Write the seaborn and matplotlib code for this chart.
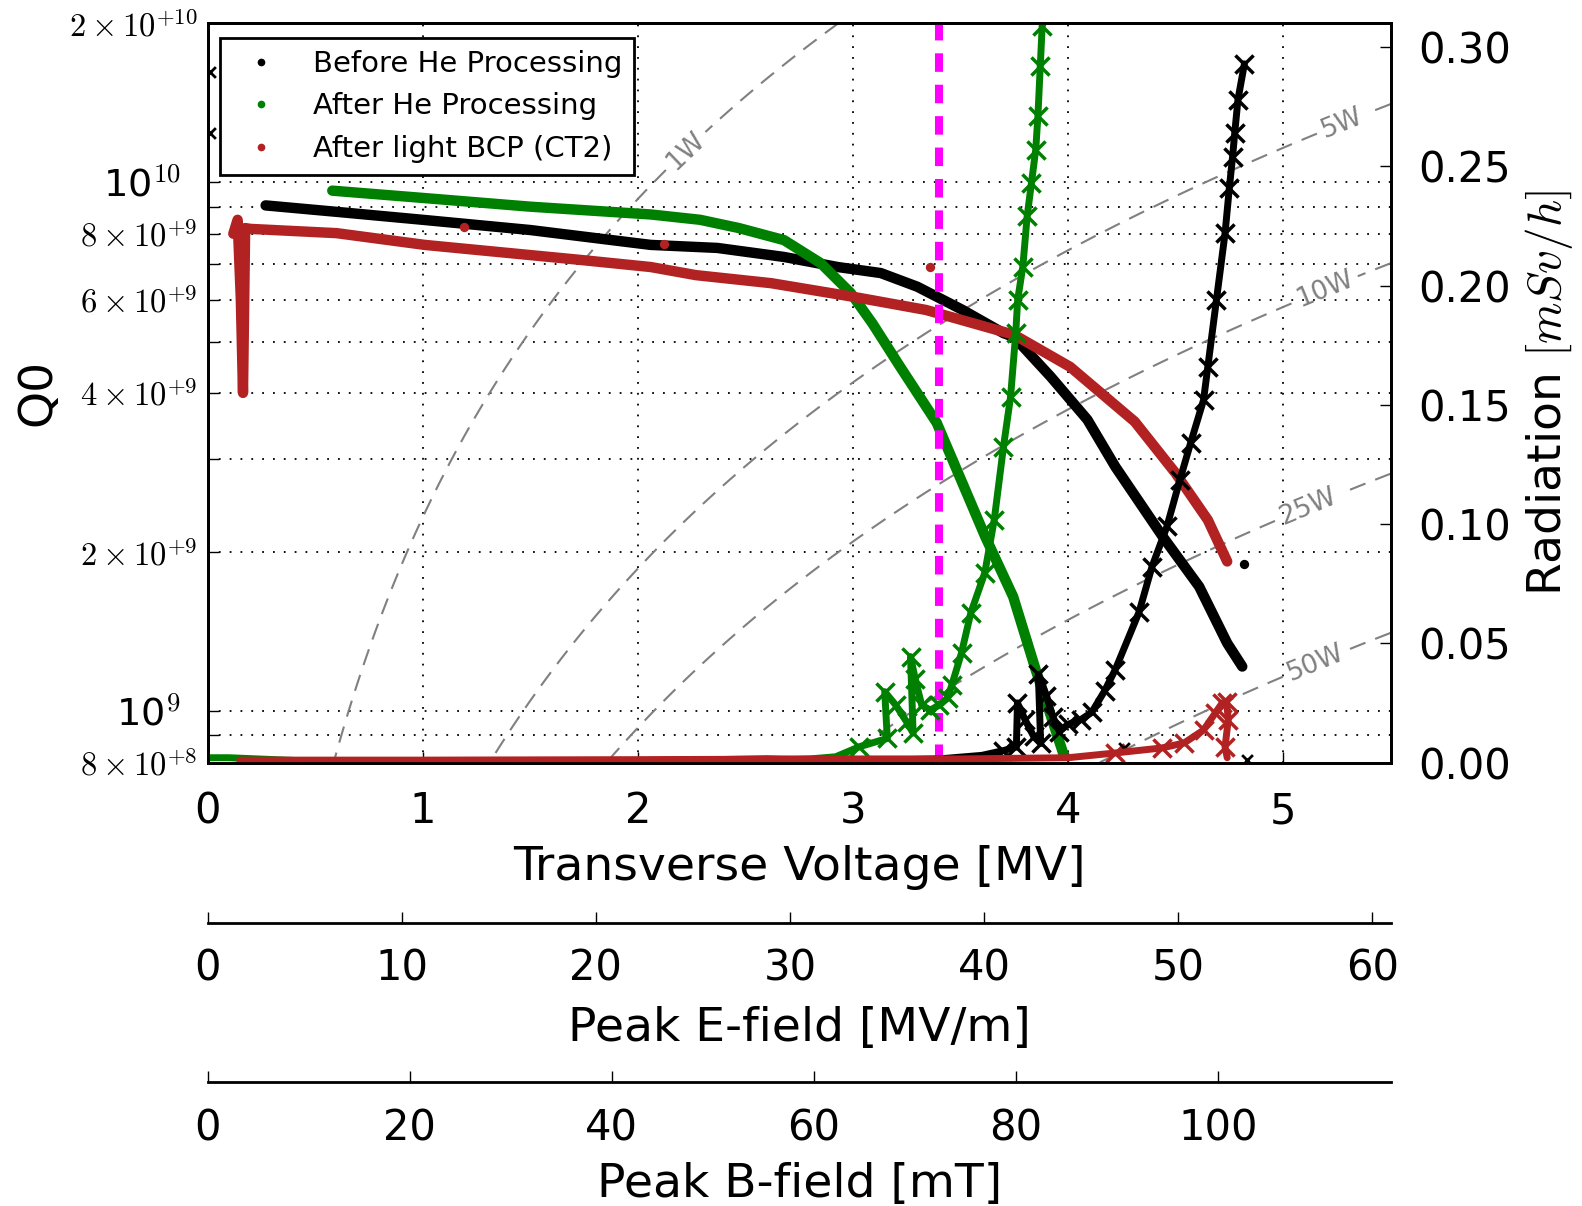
import numpy as np
import matplotlib
matplotlib.use('Agg')
import matplotlib.pyplot as plt
from matplotlib.ticker import FixedLocator, FuncFormatter
from matplotlib.lines import Line2D
import seaborn as sns

# ---------------- data ----------------
# Q0 vs transverse voltage [MV]
black_q_v = [0.27, 0.60, 1.00, 1.50, 2.06, 2.37, 2.68, 2.93, 3.13, 3.30, 3.51, 3.70, 3.75,
             3.92, 4.09, 4.22, 4.44, 4.61, 4.74, 4.81]
black_q = [9.05e9, 8.8e9, 8.5e9, 8.13e9, 7.62e9, 7.52e9, 7.23e9, 6.92e9, 6.74e9, 6.35e9,
           5.74e9, 5.19e9, 5.1e9, 4.29e9, 3.56e9, 2.90e9, 2.14e9, 1.72e9, 1.345e9, 1.215e9]

green_q_v = [0.58, 1.00, 1.50, 2.06, 2.29, 2.47, 2.68, 2.85, 2.99, 3.09, 3.22, 3.39, 3.615,
             3.745, 3.85, 3.98]
green_q = [9.65e9, 9.35e9, 9.0e9, 8.70e9, 8.50e9, 8.20e9, 7.78e9, 7.04e9, 6.18e9, 5.42e9,
           4.48e9, 3.51e9, 2.14e9, 1.647e9, 1.197e9, 8.27e8]

red_q_v = [0.12, 0.14, 0.155, 0.165, 0.175, 0.20, 0.60, 1.01, 1.73, 2.06, 2.27, 2.62, 3.01,
           3.34, 3.75, 4.01, 4.31, 4.50, 4.65, 4.74]
red_q = [8.0e9, 8.5e9, 6.0e9, 4.0e9, 8.2e9, 8.17e9, 8.02e9, 7.62e9, 7.14e9, 6.92e9, 6.68e9,
         6.45e9, 6.07e9, 5.74e9, 5.15e9, 4.48e9, 3.53e9, 2.82e9, 2.30e9, 1.92e9]

# isolated Q0 points
red_out_v = [1.19, 2.12, 3.36]
red_out_q = [8.24e9, 7.65e9, 6.92e9]
black_out_v = [4.82]
black_out_q = [1.90e9]

# Radiation [mSv/h] vs transverse voltage [MV]
black_r_v = [0.30, 1.00, 2.00, 2.60, 3.00, 3.40, 3.60, 3.70, 3.76, 3.765, 3.80, 3.84, 3.873,
             3.862, 3.90, 3.93, 3.96, 4.00, 4.06, 4.11, 4.17, 4.22, 4.33, 4.39, 4.46, 4.52,
             4.57, 4.63, 4.65, 4.69, 4.73, 4.75, 4.765, 4.775, 4.79, 4.82]
black_r = [0.0005, 0.0005, 0.0008, 0.0015, 0.0008, 0.0015, 0.003, 0.005, 0.0065, 0.025,
           0.018, 0.011, 0.008, 0.037, 0.028, 0.019, 0.013, 0.016, 0.018, 0.021, 0.030,
           0.039, 0.063, 0.082, 0.099, 0.1185, 0.134, 0.152, 0.166, 0.194, 0.222, 0.241,
           0.254, 0.264, 0.278, 0.293]
black_r_out_v = [0.01, 0.01, 4.26, 4.83]
black_r_out = [0.2896, 0.264, 0.006, 0.001]

green_r_v = [0.0, 0.10, 0.50, 1.00, 2.00, 2.50, 2.80, 2.92, 3.03, 3.16, 3.148, 3.20, 3.25,
             3.28, 3.268, 3.29, 3.32, 3.36, 3.40, 3.44, 3.46, 3.505, 3.548, 3.613, 3.657,
             3.70, 3.733, 3.757, 3.766, 3.79, 3.81, 3.83, 3.85, 3.86, 3.871, 3.88]
green_r = [0.002, 0.002, 0.0005, 0.0005, 0.0008, 0.001, 0.0015, 0.0024, 0.0066, 0.0101,
           0.0297, 0.024, 0.017, 0.0124, 0.0444, 0.035, 0.024, 0.022, 0.024, 0.027, 0.0325,
           0.046, 0.0627, 0.0795, 0.1017, 0.1324, 0.1534, 0.180, 0.194, 0.208, 0.229, 0.243,
           0.257, 0.271, 0.292, 0.309]

red_r_v = [0.15, 0.50, 1.00, 2.00, 3.00, 3.50, 4.00, 4.22, 4.436, 4.54, 4.63, 4.685, 4.717,
           4.737, 4.745, 4.73, 4.74]
red_r = [0.001, 0.001, 0.001, 0.0012, 0.0015, 0.0015, 0.002, 0.004, 0.0061, 0.0082, 0.0136,
         0.0208, 0.025, 0.0255, 0.018, 0.0065, 0.002]

legend_labels = ['Before He Processing', 'After He Processing', 'After light BCP (CT2)']
colors = ['black', '#008000', '#b22222']

# iso-power guide lines
R_over_Q = 430.0          # Ohm
power_levels = [1, 5, 10, 25, 50]
power_label_pos = [(2.22, 1.15e10), (5.27, 1.31e10), (5.18, 6.45e9), (5.10, 2.52e9), (5.14, 1.27e9)]

v_operating = 3.4         # MV
E_per_MV = 11.08          # (MV/m) per MV
B_per_MV = 21.29          # mT per MV
V_max = 5.5

# ---------------- style ----------------
sns.set_style('ticks')
plt.rcParams['font.family'] = ['DejaVu Sans']
plt.rcParams['mathtext.fontset'] = 'cm'
plt.rcParams['lines.dashed_pattern'] = [8, 5]
plt.rcParams['axes.linewidth'] = 2.0
plt.rcParams['axes.edgecolor'] = 'black'
for k in ('text.color', 'axes.labelcolor', 'xtick.color', 'ytick.color'):
    plt.rcParams[k] = 'black'

fig = plt.figure(figsize=(15.82, 12.06), dpi=100)
ax = fig.add_axes([207.5 / 1582, 1 - 762.5 / 1206, (1390.7 - 207.5) / 1582, (762.5 - 23.3) / 1206])
ax.set_yscale('log')
ax.set_xlim(0, V_max)
ax.set_ylim(8e8, 2e10)

# iso-power contours
Vg = np.linspace(0.02, V_max, 400)
Qg = np.logspace(np.log10(8e8), np.log10(2e10), 400)
VV, QQ = np.meshgrid(Vg, Qg)
PP = (VV * 1e6) ** 2 / (R_over_Q * QQ)
cs = ax.contour(VV, QQ, PP, levels=power_levels, colors='gray', linestyles='--', linewidths=1.5)

# Q0 curves
for v, q, c in zip([black_q_v, green_q_v, red_q_v], [black_q, green_q, red_q], colors):
    sns.lineplot(x=v, y=q, ax=ax, color=c, lw=7.5, sort=False, estimator=None, legend=False,
                 solid_capstyle='round', solid_joinstyle='round', zorder=3)
sns.scatterplot(x=red_out_v, y=red_out_q, ax=ax, color=colors[2], s=45, linewidth=0, zorder=4, legend=False)
sns.scatterplot(x=black_out_v, y=black_out_q, ax=ax, color='black', s=45, linewidth=0, zorder=4, legend=False)

ax.axvline(v_operating, color='#ff00ff', lw=5.8, ls=(0, (2.3, 1.6)), zorder=5)

# ticks & grid (left)
ax.set_xticks(range(0, 6))
ax.yaxis.set_major_locator(FixedLocator([1e9, 1e10]))
minor_vals = [k * 10 ** e for e in (8, 9) for k in range(2, 10)] + [2e10]
minor_vals = [m for m in minor_vals if 8e8 <= m <= 2e10]
ax.yaxis.set_minor_locator(FixedLocator(minor_vals))
ax.yaxis.set_major_formatter(FuncFormatter(lambda y, p: r'$\mathdefault{10}^{%d}$' % round(np.log10(y))))
minor_lab = {8e8: r'$8\times10^{+8}$', 2e9: r'$2\times10^{+9}$', 4e9: r'$4\times10^{+9}$',
             6e9: r'$6\times10^{+9}$', 8e9: r'$8\times10^{+9}$', 2e10: r'$2\times10^{+10}$'}
def minor_fmt(y, p):
    for k, s in minor_lab.items():
        if abs(y - k) / k < 1e-6:
            return s
    return ''
ax.yaxis.set_minor_formatter(FuncFormatter(minor_fmt))
ax.tick_params(axis='x', which='major', direction='in', length=8, width=1, labelsize=30, pad=20)
ax.tick_params(axis='y', which='major', direction='in', length=8, width=1, labelsize=27.5, pad=19)
ax.tick_params(axis='y', which='minor', direction='in', length=8, width=1, labelsize=23.5, pad=7)
ax.grid(True, axis='y', which='both', color='black', ls=(0, (1, 5)), lw=1.3)
ax.grid(True, axis='x', which='major', color='black', ls=(0, (1, 5)), lw=1.3)
ax.set_ylabel('Q0', fontsize=34)
ax.yaxis.set_label_coords(-0.124, 0.5)
ax.set_xlabel('Transverse Voltage [MV]', fontsize=34)
ax.xaxis.set_label_coords(0.5, -0.1116)
ax.xaxis.label.set_va('top')

# contour labels
ax.clabel(cs, fmt={p: f'{p}W' for p in power_levels}, manual=power_label_pos, inline=True,
          fontsize=19, inline_spacing=6)

# radiation axis
ax2 = ax.twinx()
ax2.set_ylim(0, 0.31)
for v, r, c in zip([black_r_v, green_r_v, red_r_v], [black_r, green_r, red_r], colors):
    sns.lineplot(x=v, y=r, ax=ax2, color=c, lw=5, sort=False, estimator=None, legend=False)
    mv = [a for a, b in zip(v, r) if b >= 0.004]
    mr = [b for b in r if b >= 0.004]
    sns.scatterplot(x=mv, y=mr, ax=ax2, color=c, marker='x', s=170, linewidth=2.5, legend=False)
sns.scatterplot(x=black_r_out_v, y=black_r_out, ax=ax2, color='black', marker='x', s=60,
                linewidth=2, legend=False)
ax2.set_xlim(0, V_max)
ax2.set_yticks(np.arange(0, 0.301, 0.05))
ax2.yaxis.set_major_formatter(FuncFormatter(lambda y, p: '%.2f' % y))
ax2.tick_params(axis='y', direction='in', length=8, width=1, labelsize=30, pad=20)
ax2.set_ylabel(r'Radiation $[mSv/h]$', fontsize=34)
ax2.yaxis.set_label_coords(1.112, 0.5)
for sp in ax2.spines.values():
    sp.set_linewidth(2.0)

handles = [Line2D([], [], ls='none', marker='.', color=c, markersize=9) for c in colors]
leg = ax2.legend(handles, legend_labels, loc='upper left', bbox_to_anchor=(0.0106, 0.980),
                 borderaxespad=0, fontsize=21, frameon=True, fancybox=False, framealpha=1,
                 edgecolor='black', numpoints=1, labelspacing=0.5, handlelength=2.0,
                 handletextpad=0.8, borderpad=0.4)
leg.get_frame().set_linewidth(2.0)

# extra bottom axes: peak E and B fields
def extra_axis(offset_pt, xmax, ticks, label, label_y, pad):
    a = ax.twiny()
    a.set_xlim(0, xmax)
    a.xaxis.set_ticks_position('bottom')
    a.xaxis.set_label_position('bottom')
    a.spines['bottom'].set_position(('outward', offset_pt))
    a.spines['bottom'].set_linewidth(2.0)
    for sp in ('top', 'left', 'right'):
        a.spines[sp].set_visible(False)
    a.set_xticks(ticks)
    a.tick_params(axis='x', direction='in', length=8, width=1, labelsize=30, pad=pad)
    a.set_xlabel(label, fontsize=34)
    a.xaxis.set_label_coords(0.5, label_y)
    a.xaxis.label.set_va('top')
    return a

extra_axis(115.2, V_max * E_per_MV, list(range(0, 61, 10)), 'Peak E-field [MV/m]', -0.3294, 18.3)
extra_axis(229.7, V_max * B_per_MV, list(range(0, 101, 20)), 'Peak B-field [mT]', -0.5402, 18.8)

fig.savefig('out.png', dpi=100)
